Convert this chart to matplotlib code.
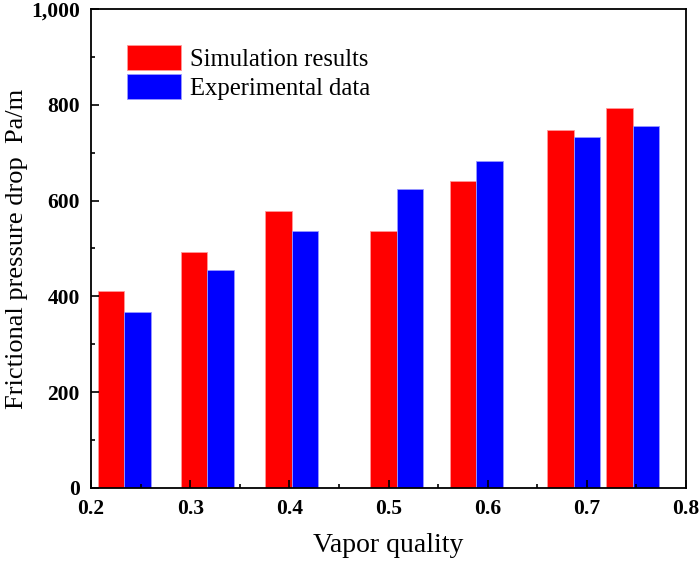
import matplotlib
matplotlib.use("Agg")
import matplotlib.pyplot as plt
from matplotlib.ticker import MultipleLocator, FuncFormatter

# vapor quality of each test point and the two series (Pa/m)
quality = [0.2335, 0.3173, 0.4023, 0.5082, 0.5887, 0.6867, 0.7465]
simulation = [412, 492, 579, 537, 641, 747, 793]
experimental = [367, 455, 536, 625, 682, 733, 755]
series_labels = ["Simulation results", "Experimental data"]

plt.rcParams["font.family"] = ["Liberation Serif", "DejaVu Serif"]

fig = plt.figure(figsize=(7.0, 5.64), dpi=100)
ax = fig.add_axes([0.13, 0.1348, 0.85, 0.8493])

w = 0.0267
ax.bar([q - w / 2 for q in quality], simulation, width=w, color="#ff0000",
       edgecolor="#ff9999", linewidth=0.6, label=series_labels[0])
ax.bar([q + w / 2 for q in quality], experimental, width=w, color="#0000ff",
       edgecolor="#9999ff", linewidth=0.6, label=series_labels[1])

ax.set_xlim(0.2, 0.8)
ax.set_ylim(0, 1000)
ax.xaxis.set_major_locator(MultipleLocator(0.1))
ax.xaxis.set_minor_locator(MultipleLocator(0.05))
ax.yaxis.set_major_locator(MultipleLocator(200))
ax.yaxis.set_minor_locator(MultipleLocator(100))
ax.xaxis.set_major_formatter(FuncFormatter(lambda v, p: f"{v:.1f}"))
ax.yaxis.set_major_formatter(FuncFormatter(lambda v, p: f"{int(v):,}"))

ax.tick_params(which="both", direction="in", top=False, right=False, width=1.2)
ax.tick_params(which="major", length=6, labelsize=15.5, pad=8)
ax.tick_params(which="minor", length=3)
for lab in ax.get_xticklabels() + ax.get_yticklabels():
    lab.set_fontweight("bold")
for sp in ax.spines.values():
    sp.set_linewidth(1.3)

ax.set_xlabel("Vapor quality", fontsize=20, labelpad=10)
ax.set_ylabel("Frictional pressure drop  Pa/m", fontsize=19)
ax.yaxis.set_label_coords(-0.106, 0.5)

ax.legend(loc="upper left", bbox_to_anchor=(0.06, 0.925), frameon=False,
          fontsize=17.7, handlelength=2.2, handleheight=1.2,
          labelspacing=0.12, handletextpad=0.38, borderpad=0, borderaxespad=0)

fig.savefig("out.png", dpi=100)
